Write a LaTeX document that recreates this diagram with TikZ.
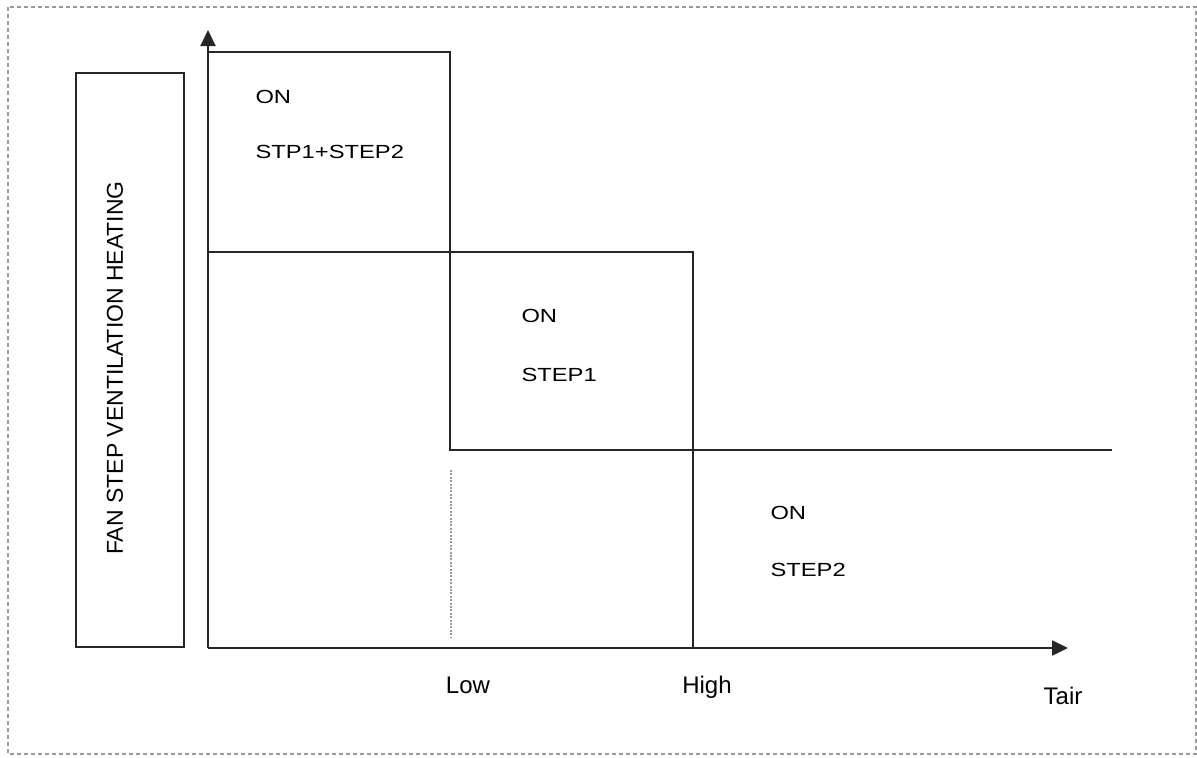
\documentclass[tikz,border=0pt]{standalone}
\usepackage{fontspec}
\setmainfont{Liberation Sans}
\usepackage{tikz}
\usetikzlibrary{calc}
\usetikzlibrary{positioning}
\usetikzlibrary{arrows.meta}
\tikzstyle{stateline} = [draw, line width=1.1pt, color=black!85]
\tikzstyle{axisline} = [stateline, -{Triangle[length=8pt,width=7.5pt]}]
\tikzstyle{lowmark} = [draw, line width=0.7pt, color=black!40, dash pattern=on 1pt off 0.7pt]
\tikzstyle{frameline} = [draw, line width=1pt, color=black!40, dash pattern=on 2pt off 1.5pt]
\tikzstyle{statelabel} = [anchor=west, inner sep=0, font=\fontsize{9.5}{11}\selectfont, xscale=1.25, text=black]
\tikzstyle{ticklabel} = [anchor=base, inner sep=0, font=\fontsize{12}{14}\selectfont, text=black]

\begin{document}
\begin{tikzpicture}[x=0.5pt, y=-0.5pt]
\useasboundingbox (0,0) rectangle (1197,757);
\draw[frameline] (8,7) rectangle (1196,754);

% axis title
\node[draw, line width=1.1pt, color=black!85, minimum width=54pt, minimum height=287pt, inner sep=0] (titlebox) at (130,360) {};
\node[rotate=90, inner sep=0, font=\fontsize{11.5}{13}\selectfont, text=black] (title) at (115,368) {FAN STEP VENTILATION HEATING};

% axes
\coordinate (origin) at (208,648);
\coordinate (ytip) at (208,30);
\coordinate (xtip) at (1068,648);
\draw[axisline] (origin) -- (ytip);
\draw[axisline] (origin) -- (xtip);

% step 1 + step 2 band
\coordinate (a1) at (208,52);
\coordinate (a2) at (450,52);
\coordinate (a3) at (450,450);
\coordinate (a4) at (1112,450);
\draw[stateline] (a1) -- (a2) -- (a3) -- (a4);

% step 1 band
\coordinate (b1) at (208,252);
\coordinate (b2) at (693,252);
\coordinate (b3) at (693,648);
\draw[stateline] (b1) -- (b2) -- (b3);

% low threshold
\coordinate (d1) at (451,470);
\coordinate (d2) at (451,637);
\draw[lowmark] (d1) -- (d2);

% states
\node[statelabel] (on12) at (255,96.5) {ON};
\node[statelabel] (stp12) at ($(on12.west)+(0,55)$) {STP1+STEP2};
\node[statelabel] (on1) at (521,316) {ON};
\node[statelabel] (stp1) at ($(on1.west)+(0,59)$) {STEP1};
\node[statelabel] (on2) at (770,513) {ON};
\node[statelabel] (stp2) at ($(on2.west)+(0,57)$) {STEP2};

% thresholds
\node[ticklabel] (low) at (468,693) {Low};
\node[ticklabel] (high) at (707,693) {High};
\node[ticklabel] (tair) at (1063,704) {Tair};
\end{tikzpicture}
\end{document}
